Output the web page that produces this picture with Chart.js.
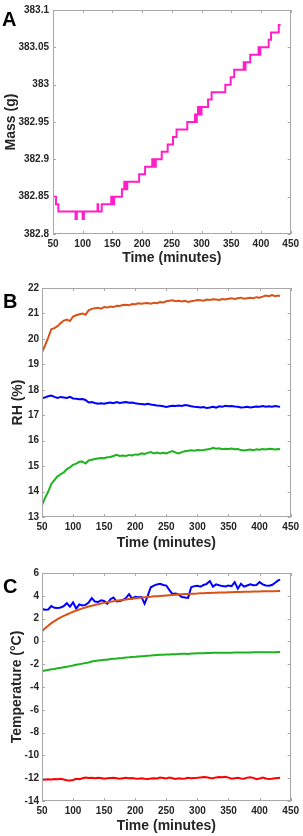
<!DOCTYPE html>
<html>
<head>
<meta charset="utf-8">
<script src="https://cdn.jsdelivr.net/npm/chart.js@4/dist/chart.umd.min.js"></script>
<style>
  html, body { margin: 0; padding: 0; background: #fff; }
  #wrap { position: relative; width: 303px; height: 836px; }
  canvas { position: absolute; left: 0; }
</style>
</head>
<body>
<div id="wrap">
  <canvas id="massChart" width="303" height="267" style="top:0px"></canvas>
  <canvas id="rhChart" width="303" height="282" style="top:270px"></canvas>
  <canvas id="tempChart" width="303" height="284" style="top:552px"></canvas>
</div>
<script>
// Panel A - mass, stepped (value changes at each time)
const massTime = [50, 55, 59, 88, 90, 100, 102, 125, 126, 132, 148, 149, 150, 151, 153, 166, 170, 171, 173, 174,
  175, 195, 205, 217, 218, 220, 221, 223, 233, 243, 252, 258, 276, 289, 290, 292, 294, 295, 297, 298,
  300, 311, 317, 340, 349, 355, 371, 372, 374, 382, 396, 397, 399, 413, 417, 430, 433];
const massValue = [382.85, 382.84, 382.83, 382.82, 382.83, 382.82, 382.83, 382.84, 382.83, 382.84, 382.85, 382.84, 382.85, 382.84, 382.85, 382.86, 382.87, 382.86, 382.87, 382.86,
  382.87, 382.88, 382.89, 382.90, 382.89, 382.90, 382.89, 382.90, 382.91, 382.92, 382.93, 382.94, 382.95, 382.96, 382.95, 382.96, 382.97, 382.96, 382.97, 382.96,
  382.97, 382.98, 382.99, 383.00, 383.01, 383.02, 383.03, 383.02, 383.03, 383.04, 383.05, 383.04, 383.05, 383.06, 383.07, 383.08, 383.08];

// shared time samples for panels B and C (minutes)
const time = [50, 55, 60, 65, 70, 75, 80, 85, 90, 95,
  100, 105, 110, 115, 120, 125, 130, 135, 140, 145,
  150, 155, 160, 165, 170, 175, 180, 185, 190, 195,
  200, 205, 210, 215, 220, 225, 230, 235, 240, 245,
  250, 255, 260, 265, 270, 275, 280, 285, 290, 295,
  300, 305, 310, 315, 320, 325, 330, 335, 340, 345,
  350, 355, 360, 365, 370, 375, 380, 385, 390, 395,
  400, 405, 410, 415, 420, 425, 430, 433];

// Panel B - RH (%)
const rhOrange = [19.47, 19.75, 20.05, 20.38, 20.42, 20.5, 20.62, 20.72, 20.76, 20.7,
  20.88, 20.93, 20.97, 21.0, 20.95, 21.12, 21.18, 21.2, 21.22, 21.19,
  21.25, 21.23, 21.27, 21.25, 21.3, 21.29, 21.33, 21.34, 21.32, 21.37,
  21.36, 21.4, 21.38, 21.4, 21.41, 21.38, 21.42, 21.4, 21.45, 21.43,
  21.48, 21.5, 21.52, 21.48, 21.5, 21.47, 21.5, 21.45, 21.48, 21.5,
  21.53, 21.52, 21.5, 21.55, 21.53, 21.56, 21.55, 21.53, 21.57, 21.55,
  21.58, 21.6, 21.57, 21.6, 21.62, 21.58, 21.6, 21.62, 21.6, 21.64,
  21.62, 21.66, 21.7, 21.68, 21.72, 21.68, 21.7, 21.68];
const rhBlue = [17.68, 17.7, 17.75, 17.77, 17.72, 17.68, 17.72, 17.7, 17.68, 17.72,
  17.66, 17.65, 17.63, 17.64, 17.6, 17.5, 17.52, 17.48, 17.45, 17.47,
  17.45, 17.48, 17.5, 17.47, 17.52, 17.48, 17.5, 17.52, 17.49, 17.5,
  17.47, 17.45, 17.44, 17.42, 17.45, 17.42, 17.4, 17.38, 17.37, 17.35,
  17.32, 17.35, 17.37, 17.36, 17.38, 17.36, 17.4, 17.38, 17.35, 17.33,
  17.32, 17.3, 17.32, 17.28, 17.3, 17.33, 17.3, 17.35, 17.33, 17.37,
  17.35, 17.36, 17.34, 17.33, 17.3, 17.31, 17.33, 17.3, 17.32, 17.34,
  17.33, 17.36, 17.33, 17.35, 17.33, 17.36, 17.34, 17.33];
const rhGreen = [13.47, 13.75, 14.0, 14.3, 14.45, 14.6, 14.68, 14.75, 14.88, 14.95,
  15.05, 15.1, 15.17, 15.18, 15.1, 15.22, 15.25, 15.28, 15.3, 15.32,
  15.31, 15.35, 15.36, 15.4, 15.44, 15.4, 15.42, 15.4, 15.44, 15.42,
  15.46, 15.45, 15.5, 15.48, 15.52, 15.55, 15.5, 15.53, 15.5, 15.52,
  15.5, 15.55, 15.59, 15.53, 15.5, 15.55, 15.58, 15.6, 15.62, 15.6,
  15.63, 15.62, 15.63, 15.65, 15.67, 15.72, 15.68, 15.7, 15.66, 15.68,
  15.67, 15.69, 15.66, 15.67, 15.63, 15.61, 15.63, 15.65, 15.62, 15.66,
  15.64, 15.67, 15.65, 15.68, 15.67, 15.65, 15.67, 15.66];

// Panel C - temperature (°C)
const tOrange = [0.88, 1.15, 1.38, 1.6, 1.78, 1.95, 2.1, 2.24, 2.36, 2.48,
  2.6, 2.7, 2.8, 2.9, 2.98, 3.06, 3.13, 3.2, 3.26, 3.32,
  3.38, 3.43, 3.48, 3.52, 3.57, 3.61, 3.65, 3.68, 3.72, 3.75,
  3.78, 3.81, 3.84, 3.87, 3.9, 3.92, 3.95, 3.97, 3.99, 4.01,
  4.03, 4.05, 4.07, 4.09, 4.11, 4.13, 4.15, 4.16, 4.18, 4.19,
  4.2, 4.22, 4.23, 4.24, 4.25, 4.26, 4.27, 4.28, 4.29, 4.3,
  4.31, 4.32, 4.33, 4.33, 4.34, 4.35, 4.36, 4.36, 4.37, 4.38,
  4.38, 4.39, 4.4, 4.4, 4.41, 4.41, 4.42, 4.42];
const tBlue = [2.85, 2.78, 2.8, 3.1, 2.95, 2.92, 2.98, 3.1, 3.35, 3.05,
  3.42, 2.88, 3.25, 3.15, 3.2, 3.4, 3.8, 3.5, 3.45, 3.6,
  3.55, 3.3, 3.7, 3.85, 3.5, 3.55, 3.62, 3.8, 4.15, 3.75,
  3.92, 3.88, 3.9, 3.3, 4.0, 4.75, 4.9, 5.0, 5.06, 4.95,
  4.9, 4.5, 4.15, 4.2, 4.1, 3.9, 3.85, 3.82, 4.75, 4.85,
  4.88, 4.8, 4.95, 5.05, 5.3, 4.8, 5.0, 4.92, 4.85, 4.82,
  4.9, 4.85, 5.2, 4.62, 5.05, 4.8, 4.9, 5.0, 4.92, 4.95,
  5.2, 5.0, 4.9, 4.88, 4.95, 5.15, 5.35, 5.42];
const tGreen = [-2.6, -2.55, -2.5, -2.45, -2.42, -2.36, -2.32, -2.27, -2.22, -2.17,
  -2.12, -2.05, -2.0, -1.95, -1.9, -1.85, -1.76, -1.72, -1.68, -1.65,
  -1.62, -1.6, -1.55, -1.52, -1.5, -1.47, -1.45, -1.42, -1.4, -1.37,
  -1.35, -1.32, -1.3, -1.28, -1.25, -1.24, -1.22, -1.2, -1.18, -1.17,
  -1.15, -1.14, -1.12, -1.12, -1.1, -1.09, -1.08, -1.1, -1.07, -1.06,
  -1.05, -1.04, -1.03, -1.02, -1.01, -1.0, -1.0, -1.0, -1.0, -0.99,
  -0.99, -0.99, -0.98, -0.98, -0.98, -0.97, -0.97, -0.97, -0.96, -0.96,
  -0.96, -0.96, -0.95, -0.95, -0.95, -0.95, -0.94, -0.94];
const tRed = [-12.15, -12.12, -12.1, -12.12, -12.08, -12.1, -12.05, -12.12, -12.18, -12.2,
  -12.15, -12.05, -12.08, -12.0, -11.95, -11.98, -11.97, -12.0, -11.97, -11.98,
  -12.05, -12.0, -11.98, -11.97, -12.0, -12.05, -12.0, -11.97, -12.0, -11.98,
  -12.02, -12.05, -12.0, -12.05, -12.08, -12.02, -12.0, -12.03, -11.95, -11.98,
  -12.02, -11.95, -12.0, -12.07, -12.0, -12.05, -12.02, -11.97, -12.0, -11.98,
  -11.97, -11.93, -11.9, -11.92, -11.98, -12.0, -11.93, -11.9, -11.92, -11.88,
  -11.95, -12.05, -12.0, -11.97, -12.02, -12.05, -11.95, -11.92, -11.97, -12.08,
  -12.02, -11.95, -12.03, -12.08, -12.05, -12.0, -11.98, -11.97];

const FONT = '"Liberation Sans", Arial, sans-serif';
const TEXT = '#262626';

function pts(xs, ys) {
  return xs.map((x, i) => ({ x: x, y: ys[i] }));
}

// matlab-like box with inward ticks, plus the panel letter
const boxPlugin = {
  id: 'box',
  afterDatasetsDraw(chart, args, opts) {
    const { ctx, chartArea: a, scales: { x, y } } = chart;
    ctx.save();
    ctx.strokeStyle = '#a8a8a8';
    ctx.lineWidth = 1;
    ctx.strokeRect(Math.round(a.left) + 0.5, Math.round(a.top) + 0.5,
      Math.round(a.right - a.left) - 1, Math.round(a.bottom - a.top) - 1);
    ctx.beginPath();
    x.ticks.forEach(t => {
      const px = Math.round(x.getPixelForValue(t.value)) + 0.5;
      ctx.moveTo(px, a.bottom); ctx.lineTo(px, a.bottom - 3);
      ctx.moveTo(px, a.top); ctx.lineTo(px, a.top + 3);
    });
    y.ticks.forEach(t => {
      const py = Math.round(y.getPixelForValue(t.value)) + 0.5;
      ctx.moveTo(a.left, py); ctx.lineTo(a.left + 3, py);
      ctx.moveTo(a.right, py); ctx.lineTo(a.right - 3, py);
    });
    ctx.stroke();
    ctx.fillStyle = '#000';
    ctx.font = 'bold 20px ' + FONT;
    ctx.textBaseline = 'alphabetic';
    ctx.fillText(opts.letter, opts.lx, opts.ly);
    ctx.restore();
  }
};

function makeChart(id, datasets, cfg) {
  return new Chart(document.getElementById(id), {
    type: 'line',
    data: { datasets: datasets },
    plugins: [boxPlugin],
    options: {
      responsive: false,
      animation: false,
      devicePixelRatio: 1,
      layout: { autoPadding: false, padding: cfg.padding },
      elements: { point: { radius: 0 }, line: { borderWidth: 2, tension: 0 } },
      plugins: {
        legend: { display: false },
        tooltip: { enabled: false },
        box: { letter: cfg.letter, lx: cfg.lx, ly: cfg.ly }
      },
      scales: {
        x: {
          type: 'linear', min: 50, max: 450,
          grid: { display: false, drawTicks: false },
          border: { display: false },
          ticks: { stepSize: 50, padding: 4, maxRotation: 0, autoSkip: false, color: TEXT,
            font: { family: FONT, weight: 'bold', size: 10 } },
          title: { display: true, text: 'Time (minutes)', color: TEXT, padding: 0,
            font: { family: FONT, weight: 'bold', size: 14 } },
          afterFit: s => { s.height = cfg.xh; }
        },
        y: {
          min: cfg.ymin, max: cfg.ymax,
          grid: { display: false, drawTicks: false },
          border: { display: false },
          ticks: { stepSize: cfg.step, padding: cfg.ypad, autoSkip: false, color: TEXT,
            font: { family: FONT, weight: 'bold', size: 10 },
            callback: v => String(+v.toFixed(2)) },
          title: { display: true, text: cfg.ytitle, color: TEXT, padding: { top: cfg.tpad, bottom: 0 },
            font: { family: FONT, weight: 'bold', size: 14 } },
          afterFit: s => { s.width = cfg.yw; }
        }
      }
    }
  });
}

makeChart('massChart', [
  { data: pts(massTime, massValue), borderColor: '#ff1ec8', stepped: true }
], { padding: { top: 5, right: 9, bottom: 0, left: 0 }, xh: 33, yw: 53, ypad: 4, tpad: 3,
  ymin: 382.8, ymax: 383.1, step: 0.05, ytitle: 'Mass (g)', letter: 'A', lx: 2, ly: 26 });

makeChart('rhChart', [
  { data: pts(time, rhOrange), borderColor: '#d95319' },
  { data: pts(time, rhBlue), borderColor: '#0000ff' },
  { data: pts(time, rhGreen), borderColor: '#1db31d' }
], { padding: { top: 18, right: 10, bottom: 0, left: 0 }, xh: 35, yw: 42, ypad: 3, tpad: 10,
  ymin: 13, ymax: 22, step: 1, ytitle: 'RH (%)', letter: 'B', lx: 3, ly: 38 });

makeChart('tempChart', [
  { data: pts(time, tOrange), borderColor: '#d95319' },
  { data: pts(time, tBlue), borderColor: '#0000ff' },
  { data: pts(time, tGreen), borderColor: '#1db31d' },
  { data: pts(time, tRed), borderColor: '#ff0000' }
], { padding: { top: 21, right: 10, bottom: 1, left: 0 }, xh: 34, yw: 42, ypad: 3, tpad: 9,
  ymin: -14, ymax: 6, step: 2, ytitle: 'Temperature (°C)', letter: 'C', lx: 3, ly: 41 });
</script>
</body>
</html>
